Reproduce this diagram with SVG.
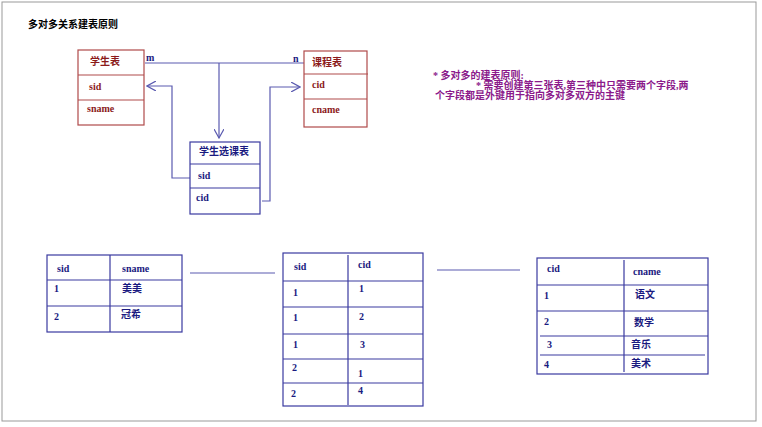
<svg xmlns="http://www.w3.org/2000/svg" width="762" height="427" viewBox="0 0 762 427">
<defs>
<style>
.t{font-family:"Liberation Serif","Noto Sans CJK SC",serif;font-weight:bold;font-size:10px}
.r{fill:#fff;stroke:#b04a4a;stroke-width:1.2}
.rl{stroke:#b04a4a;stroke-width:1.2}
.b{fill:#fff;stroke:#3a3aa0;stroke-width:1.2}
.bl{stroke:#3a3aa0;stroke-width:1.2;fill:none}
.c{stroke:#5a5ab0;stroke-width:1.2;fill:none}
.rt{fill:#8b1a1a}
.bt{fill:#1a1a80}
</style>
<marker id="a" markerWidth="10" markerHeight="10" refX="9" refY="5" orient="auto" markerUnits="userSpaceOnUse"><path d="M0,0 L9,5 L0,10" fill="none" stroke="#5a5ab0" stroke-width="1.2"/></marker>
</defs>
<rect x="0" y="0" width="762" height="427" fill="#fff"/>
<rect x="2" y="2" width="754" height="419" fill="none" stroke="#999" stroke-width="1"/>
<text class="t" x="28" y="28" font-size="11">多对多关系建表原则</text>
<g id="connectors">
<path class="c" d="M145,63 H304"/>
<path class="c" d="M219,63 V138" marker-end="url(#a)"/>
<path class="c" d="M192,178 H172 V86 H147" marker-end="url(#a)"/>
<path class="c" d="M262,201 H270 V87 H300" marker-end="url(#a)"/>
<path class="c" d="M190,273 H275 M437,270 H520"/>
</g>
<text class="t bt" x="146" y="61">m</text>
<text class="t bt" x="293" y="62">n</text>
<g id="student">
<rect class="r" x="78" y="50" width="66" height="75"/>
<path class="rl" d="M78,75 H144 M78,100 H144"/>
<text class="t rt" x="90" y="65">学生表</text>
<text class="t rt" x="89" y="90">sid</text>
<text class="t rt" x="87" y="112" font-size="9">sname</text>
</g>
<g id="course">
<rect class="r" x="304" y="51" width="63" height="76"/>
<path class="rl" d="M304,74 H368 M304,99 H367"/>
<text class="t rt" x="312" y="66">课程表</text>
<text class="t rt" x="312" y="88">cid</text>
<text class="t rt" x="312" y="113" font-size="9">cname</text>
</g>
<g id="sc">
<rect class="b" x="190" y="142" width="70" height="72"/>
<path class="bl" d="M190,164 H260 M190,188 H260"/>
<text class="t bt" x="199" y="155">学生选课表</text>
<text class="t bt" x="198" y="179">sid</text>
<text class="t bt" x="196" y="201">cid</text>
</g>
<text class="t" x="433" y="79" fill="#8b1a8b">*  多对多的建表原则:</text>
<text class="t" x="476" y="89" fill="#8b1a8b">*  需要创建第三张表,第三种中只需要两个字段,两</text>
<text class="t" x="435" y="99" fill="#8b1a8b">个字段都是外键用于指向多对多双方的主键</text>
<g id="t1">
<rect class="b" x="47" y="255" width="135" height="77"/>
<path class="bl" d="M110,255 V332 M47,280 H182 M47,306 H182"/>
<g class="t bt" font-size="9">
<text x="57" y="272">sid</text><text x="122" y="272">sname</text>
<text x="54" y="292">1</text><text x="122" y="292">美美</text>
<text x="54" y="320">2</text><text x="121" y="318">冠希</text>
</g>
</g>
<g id="t2">
<rect class="b" x="283" y="253" width="140" height="153"/>
<path class="bl" d="M348,255 V405 M283,281 H423 M283,307 H423 M283,334 H423 M283,359 H423 M283,383 H423"/>
<g class="t bt" font-size="9">
<text x="294" y="270">sid</text><text x="358" y="268">cid</text>
<text x="293" y="296">1</text><text x="359" y="292">1</text>
<text x="293" y="321">1</text><text x="359" y="320">2</text>
<text x="293" y="348">1</text><text x="360" y="348">3</text>
<text x="292" y="371">2</text><text x="358" y="377">1</text>
<text x="291" y="397">2</text><text x="358" y="394">4</text>
</g>
</g>
<g id="t3">
<rect class="b" x="537" y="258" width="171" height="116"/>
<path class="bl" d="M624,260 V372 M537,285 H708 M537,311 H708 M540,336 H708 M540,355 H705"/>
<g class="t bt" font-size="9">
<text x="547" y="272">cid</text><text x="633" y="275">cname</text>
<text x="544" y="299">1</text><text x="635" y="298">语文</text>
<text x="544" y="325">2</text><text x="634" y="326">数学</text>
<text x="547" y="348">3</text><text x="631" y="348">音乐</text>
<text x="544" y="368">4</text><text x="631" y="367">美术</text>
</g>
</g>
</svg>
